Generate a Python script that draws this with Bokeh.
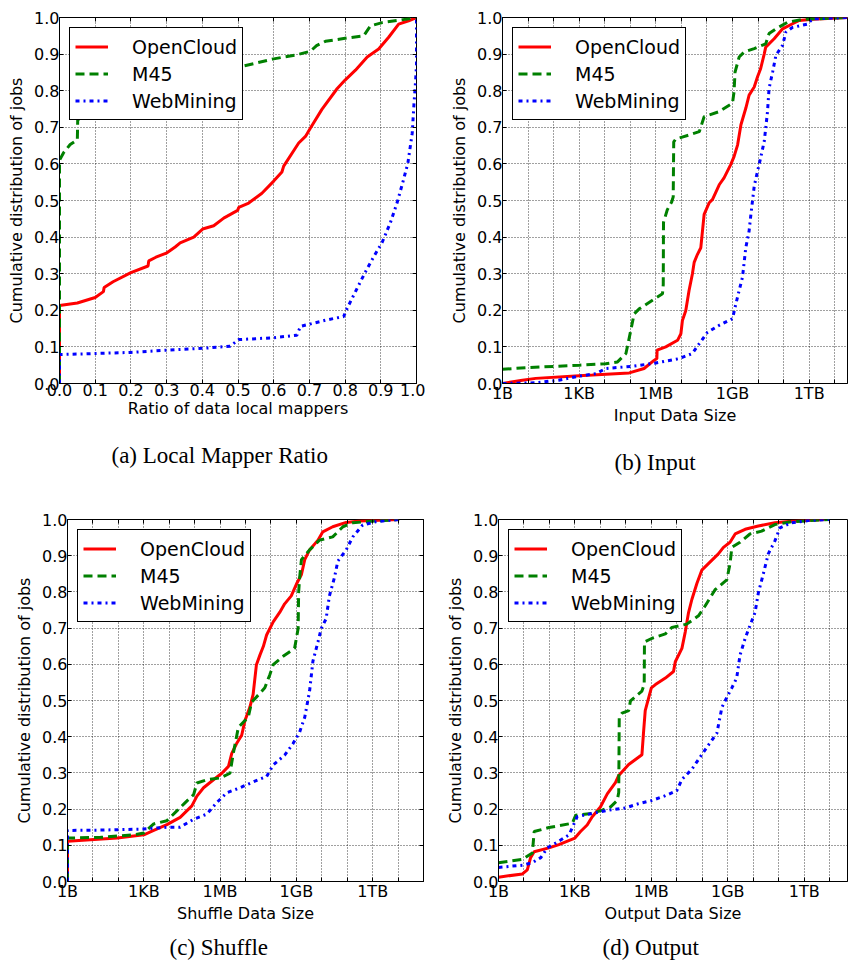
from bokeh.plotting import figure
from bokeh.models import Range1d, FixedTicker, LinearAxis, PrintfTickFormatter, CustomJSTickFormatter
from bokeh.layouts import row, column
from bokeh.embed import file_html
from bokeh.resources import INLINE

# ---------------- data ----------------
series_names = ["OpenCloud", "M45", "WebMining"]
series_colors = ["#ff0000", "#008000", "#0000ff"]
series_dashes = ["solid", "9 5", "4 4 2 4"]

y_ticks = [0.0, 0.1, 0.2, 0.3, 0.4, 0.5, 0.6, 0.7, 0.8, 0.9, 1.0]
ratio_ticks = [0.0, 0.1, 0.2, 0.3, 0.4, 0.5, 0.6, 0.7, 0.8, 0.9, 1.0]
# data sizes are given as log10(bytes)
size_ticks = [0, 1, 2, 3, 4, 5, 6, 7, 8, 9, 10, 11, 12, 13, 14]
size_tick_labels = {0: "1B", 3: "1KB", 6: "1MB", 9: "1GB", 12: "1TB"}

# (a) Local Mapper Ratio
ratio_oc_x = [0.0, 0.0, 0.05, 0.1, 0.123, 0.125, 0.15, 0.2, 0.248, 0.25, 0.27, 0.301, 0.324, 0.338, 0.376, 0.401, 0.432, 0.46, 0.499, 0.502, 0.53, 0.567, 0.6, 0.623, 0.628, 0.67, 0.689, 0.703, 0.735, 0.778, 0.8, 0.829, 0.862, 0.894, 0.922, 0.95, 0.978, 1.0]
ratio_oc_y = [0.0, 0.213, 0.22, 0.235, 0.251, 0.262, 0.278, 0.303, 0.321, 0.335, 0.345, 0.357, 0.373, 0.384, 0.40, 0.422, 0.431, 0.452, 0.473, 0.481, 0.493, 0.52, 0.553, 0.578, 0.594, 0.657, 0.675, 0.698, 0.749, 0.806, 0.829, 0.856, 0.892, 0.914, 0.946, 0.982, 0.991, 1.0]
ratio_m45_x = [0.0, 0.0, 0.011, 0.03, 0.05, 0.051, 0.07, 0.15, 0.25, 0.35, 0.45, 0.505, 0.6, 0.665, 0.703, 0.72, 0.745, 0.806, 0.852, 0.871, 0.904, 0.955, 1.0]
ratio_m45_y = [0.0, 0.61, 0.63, 0.653, 0.666, 0.72, 0.735, 0.78, 0.81, 0.835, 0.855, 0.865, 0.887, 0.898, 0.908, 0.923, 0.935, 0.944, 0.95, 0.977, 0.986, 0.993, 1.0]
ratio_wm_x = [0.0, 0.0, 0.1, 0.2, 0.3, 0.4, 0.478, 0.502, 0.6, 0.665, 0.675, 0.75, 0.796, 0.806, 0.829, 0.857, 0.88, 0.904, 0.927, 0.946, 0.964, 0.976, 0.988, 0.993, 0.997, 1.0, 1.0]
ratio_wm_y = [0.0, 0.079, 0.082, 0.085, 0.091, 0.096, 0.102, 0.12, 0.125, 0.132, 0.156, 0.174, 0.183, 0.206, 0.251, 0.305, 0.346, 0.386, 0.44, 0.495, 0.558, 0.603, 0.684, 0.765, 0.82, 0.87, 1.0]

# (b) Input
in_oc_x = [0, 0.78, 1.3, 3.0, 3.52, 4.96, 5.54, 5.93, 6.04, 6.05, 6.39, 6.85, 6.98, 7.04, 7.17, 7.3, 7.43, 7.5, 7.63, 7.76, 7.89, 8.09, 8.22, 8.48, 8.67, 8.93, 9.06, 9.2, 9.33, 9.52, 9.65, 9.85, 9.98, 10.1, 10.24, 10.3, 10.63, 10.96, 11.35, 11.61, 12.13, 13.5]
in_oc_y = [0.0, 0.009, 0.014, 0.021, 0.023, 0.029, 0.041, 0.063, 0.068, 0.091, 0.10, 0.118, 0.136, 0.172, 0.199, 0.254, 0.299, 0.331, 0.353, 0.371, 0.462, 0.494, 0.503, 0.543, 0.562, 0.598, 0.62, 0.652, 0.707, 0.752, 0.788, 0.81, 0.838, 0.86, 0.9, 0.919, 0.942, 0.969, 0.983, 0.992, 0.995, 1.0]
in_m45_x = [0, 0.91, 3.0, 4.04, 4.5, 4.83, 5.02, 5.15, 5.35, 6.26, 6.29, 6.30, 6.45, 6.62, 6.68, 6.70, 6.78, 7.3, 7.7, 7.89, 8.48, 9.0, 9.06, 9.1, 9.26, 9.46, 9.85, 10.3, 10.43, 10.7, 11.15, 11.74, 13.5]
in_m45_y = [0.039, 0.043, 0.05, 0.054, 0.059, 0.082, 0.145, 0.19, 0.204, 0.245, 0.27, 0.44, 0.475, 0.496, 0.51, 0.66, 0.668, 0.679, 0.688, 0.729, 0.743, 0.766, 0.797, 0.851, 0.892, 0.906, 0.915, 0.928, 0.956, 0.969, 0.987, 0.995, 1.0]
in_wm_x = [0, 1.3, 2.2, 3.0, 3.65, 4.04, 5.09, 6.0, 6.91, 7.43, 7.7, 8.02, 8.48, 9.0, 9.13, 9.26, 9.39, 9.52, 9.65, 9.72, 9.85, 9.98, 10.1, 10.24, 10.3, 10.37, 10.43, 10.57, 10.7, 10.96, 11.09, 11.35, 11.93, 12.13, 13.5]
in_wm_y = [0.0, 0.002, 0.009, 0.02, 0.027, 0.041, 0.047, 0.056, 0.068, 0.082, 0.109, 0.14, 0.159, 0.177, 0.217, 0.254, 0.29, 0.371, 0.417, 0.462, 0.539, 0.58, 0.616, 0.661, 0.697, 0.743, 0.806, 0.851, 0.897, 0.924, 0.96, 0.973, 0.982, 0.996, 1.0]

# (c) Shuffle
sh_oc_x = [0, 0, 1.96, 3.0, 3.39, 3.91, 4.43, 4.89, 5.09, 5.35, 5.74, 6.07, 6.33, 6.46, 6.65, 6.85, 6.98, 7.17, 7.3, 7.43, 7.57, 7.7, 7.83, 8.09, 8.35, 8.54, 8.8, 9.0, 9.2, 9.33, 9.52, 9.85, 10.04, 10.43, 10.96, 11.48, 13.04]
sh_oc_y = [0.0, 0.111, 0.12, 0.129, 0.141, 0.157, 0.177, 0.209, 0.236, 0.259, 0.281, 0.299, 0.318, 0.354, 0.381, 0.404, 0.445, 0.481, 0.517, 0.599, 0.626, 0.649, 0.681, 0.717, 0.744, 0.767, 0.789, 0.821, 0.848, 0.889, 0.916, 0.943, 0.966, 0.98, 0.992, 0.996, 1.0]
sh_m45_x = [0, 0, 1.3, 2.61, 3.0, 3.39, 3.91, 4.3, 4.63, 4.96, 5.09, 5.48, 6.0, 6.39, 6.52, 6.72, 7.11, 7.24, 7.76, 7.96, 8.09, 8.48, 8.93, 9.07, 9.09, 9.13, 9.2, 9.52, 9.91, 10.43, 10.83, 11.22, 12.13, 13.04]
sh_m45_y = [0.0, 0.12, 0.122, 0.129, 0.134, 0.159, 0.168, 0.195, 0.218, 0.24, 0.272, 0.281, 0.286, 0.299, 0.354, 0.426, 0.454, 0.495, 0.535, 0.572, 0.599, 0.622, 0.644, 0.699, 0.799, 0.84, 0.889, 0.916, 0.943, 0.952, 0.98, 0.991, 0.996, 1.0]
sh_wm_x = [0, 0, 1.3, 3.0, 3.91, 4.43, 4.96, 5.48, 5.87, 6.26, 6.78, 7.37, 7.83, 8.09, 8.54, 8.87, 9.13, 9.33, 9.52, 9.65, 9.85, 9.98, 10.17, 10.3, 10.5, 10.63, 10.96, 11.22, 11.61, 12.13, 13.04]
sh_wm_y = [0.0, 0.141, 0.142, 0.145, 0.15, 0.15, 0.172, 0.186, 0.218, 0.245, 0.259, 0.277, 0.29, 0.322, 0.349, 0.381, 0.413, 0.454, 0.526, 0.608, 0.662, 0.699, 0.726, 0.789, 0.84, 0.885, 0.916, 0.952, 0.985, 0.994, 1.0]

# (d) Output
out_oc_x = [0, 0.94, 1.13, 1.26, 1.4, 1.98, 2.37, 3.0, 3.22, 3.48, 3.68, 4.0, 4.27, 4.59, 4.72, 5.11, 5.63, 5.7, 5.76, 6.0, 6.16, 6.55, 6.87, 6.94, 7.2, 7.33, 7.46, 7.59, 7.79, 7.98, 8.24, 8.63, 8.83, 9.09, 9.29, 9.68, 10.2, 10.85, 11.5, 12.8]
out_oc_y = [0.012, 0.021, 0.032, 0.066, 0.082, 0.093, 0.102, 0.12, 0.138, 0.156, 0.179, 0.206, 0.242, 0.273, 0.293, 0.323, 0.35, 0.418, 0.472, 0.535, 0.544, 0.562, 0.58, 0.607, 0.644, 0.689, 0.743, 0.779, 0.824, 0.86, 0.878, 0.905, 0.923, 0.937, 0.96, 0.973, 0.982, 0.991, 0.995, 1.0]
out_m45_x = [0, 0.94, 1.33, 1.4, 1.98, 2.9, 3.03, 3.68, 4.07, 4.4, 4.66, 4.72, 4.74, 4.85, 5.11, 5.18, 5.63, 5.72, 5.73, 6.03, 6.55, 6.81, 7.39, 7.85, 8.11, 8.5, 8.96, 9.09, 9.16, 9.48, 9.87, 10.33, 10.85, 11.5, 13.0]
out_m45_y = [0.052, 0.061, 0.079, 0.138, 0.149, 0.161, 0.183, 0.188, 0.197, 0.206, 0.224, 0.246, 0.454, 0.465, 0.472, 0.499, 0.526, 0.544, 0.662, 0.672, 0.684, 0.702, 0.711, 0.734, 0.761, 0.806, 0.833, 0.878, 0.923, 0.937, 0.96, 0.968, 0.986, 0.994, 1.0]
out_wm_x = [0, 0.94, 1.33, 1.66, 1.92, 2.24, 2.77, 3.09, 3.35, 3.68, 4.33, 4.98, 5.5, 6.03, 6.55, 7.0, 7.2, 7.59, 7.85, 8.24, 8.57, 8.77, 8.96, 9.16, 9.35, 9.48, 9.68, 9.87, 10.07, 10.2, 10.4, 10.59, 10.85, 11.05, 11.5, 12.16, 13.0]
out_wm_y = [0.039, 0.045, 0.052, 0.066, 0.093, 0.106, 0.129, 0.179, 0.183, 0.188, 0.197, 0.203, 0.215, 0.224, 0.237, 0.251, 0.282, 0.31, 0.337, 0.377, 0.409, 0.481, 0.508, 0.535, 0.562, 0.625, 0.671, 0.707, 0.743, 0.797, 0.851, 0.905, 0.941, 0.977, 0.991, 0.997, 1.0]

FONT = "DejaVu Sans"
CAP_FONT = "Liberation Serif"


def hidden_axis(ticker):
    return LinearAxis(ticker=ticker, formatter=CustomJSTickFormatter(code="return ''"),
                      major_tick_in=4, major_tick_out=0, minor_tick_in=0, minor_tick_out=0,
                      major_tick_line_color="black", axis_line_color=None,
                      major_label_text_font_size="0px", major_label_standoff=0)


def make_panel(caption, xlabel, curves, x_end, x_ticks, x_labels, width, height,
               b_left, b_right, b_top, b_bottom, cap_offset, cap_standoff, right_axis=True):
    p = figure(width=width, height=height, x_range=Range1d(0, x_end), y_range=Range1d(0, 1),
               output_backend="svg", toolbar_location=None, title=caption, title_location="below",
               min_border_left=b_left, min_border_right=b_right,
               min_border_top=b_top, min_border_bottom=b_bottom)
    p.outline_line_color = "black"
    p.outline_line_width = 1
    p.outline_line_alpha = 1

    for (xs, ys), name, color, dash in zip(curves, series_names, series_colors, series_dashes):
        p.line(xs, ys, line_color=color, line_width=3, line_dash=dash, legend_label=name)

    xax = p.xaxis[0]
    yax = p.yaxis[0]
    xax.ticker = FixedTicker(ticks=x_ticks)
    if x_labels is None:
        xax.formatter = PrintfTickFormatter(format="%.1f")
    else:
        xax.major_label_overrides = {t: x_labels.get(t, "") for t in x_ticks}
    yax.ticker = FixedTicker(ticks=y_ticks)
    yax.formatter = PrintfTickFormatter(format="%.1f")
    for ax in (xax, yax):
        ax.major_tick_in = 4
        ax.major_tick_out = 0
        ax.minor_tick_in = 0
        ax.minor_tick_out = 0
        ax.major_tick_line_color = "black"
        ax.axis_line_color = "black"
        ax.major_label_text_font = FONT
        ax.major_label_text_font_size = "16px"
        ax.major_label_text_color = "black"
        ax.major_label_standoff = 0
        ax.axis_label_text_font = FONT
        ax.axis_label_text_font_size = "16px"
        ax.axis_label_text_font_style = "normal"
        ax.axis_label_text_color = "black"
    xax.axis_label = xlabel
    xax.axis_label_standoff = 0
    yax.axis_label = "Cumulative distribution of jobs"
    yax.axis_label_standoff = 5

    p.add_layout(hidden_axis(FixedTicker(ticks=x_ticks)), "above")
    if right_axis:
        p.add_layout(hidden_axis(FixedTicker(ticks=y_ticks)), "right")

    for g in (p.xgrid, p.ygrid):
        g.grid_line_color = "black"
        g.grid_line_width = 1
        g.grid_line_dash = "1 2"
        g.grid_line_alpha = 0.75

    lg = p.legend[0]
    lg.location = "top_left"
    lg.margin = 10
    lg.padding = 5
    lg.spacing = 0
    lg.label_height = 27
    lg.glyph_height = 27
    lg.glyph_width = 33
    lg.label_standoff = 24
    lg.label_text_font = FONT
    lg.label_text_font_size = "19px"
    lg.label_text_color = "black"
    lg.border_line_color = "black"
    lg.border_line_width = 1
    lg.border_line_alpha = 1
    lg.background_fill_alpha = 1

    t = p.title
    t.text_font = CAP_FONT
    t.text_font_size = "23px"
    t.text_font_style = "normal"
    t.text_color = "black"
    t.align = "left"
    t.offset = cap_offset
    t.standoff = cap_standoff
    return p


pa = make_panel("(a) Local Mapper Ratio", "Ratio of data local mappers",
                [(ratio_oc_x, ratio_oc_y), (ratio_m45_x, ratio_m45_y), (ratio_wm_x, ratio_wm_y)],
                1.0, ratio_ticks, None, 425, 494, 59, 9, 17, 108, 52, 40)
pb = make_panel("(b) Input", "Input Data Size",
                [(in_oc_x, in_oc_y), (in_m45_x, in_m45_y), (in_wm_x, in_wm_y)],
                13.5, size_ticks, size_tick_labels, 423, 494, 77, 1, 17, 108, 112, 40, right_axis=False)
pc = make_panel("(c) Shuffle", "Shuffle Data Size",
                [(sh_oc_x, sh_oc_y), (sh_m45_x, sh_m45_y), (sh_wm_x, sh_wm_y)],
                14, size_ticks, size_tick_labels, 425, 472, 67, 2, 25, 82, 102, 14)
pd_ = make_panel("(d) Output", "Output Data Size",
                 [(out_oc_x, out_oc_y), (out_m45_x, out_m45_y), (out_wm_x, out_wm_y)],
                 13.7, size_ticks, size_tick_labels, 423, 472, 73, 1, 25, 82, 104, 14, right_axis=False)

layout = column(row(pa, pb), row(pc, pd_))

with open("out.html", "w") as f:
    f.write(file_html(layout, INLINE))
